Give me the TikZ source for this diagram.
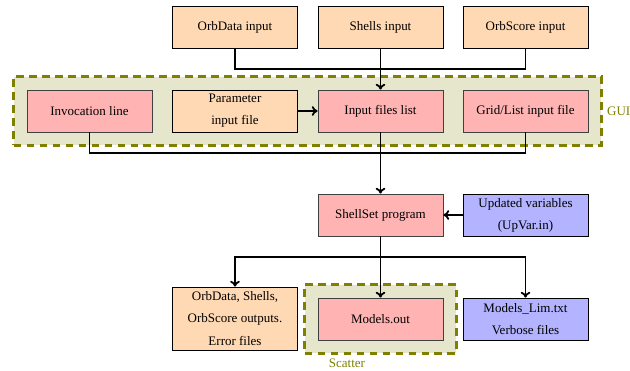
\documentclass[tikz,border=0pt]{standalone}
\usepackage{fontspec}
\setmainfont{Liberation Serif}
\usetikzlibrary{arrows.meta,fit,backgrounds}
\definecolor{inbox}{RGB}{255,217,179}
\definecolor{procbox}{RGB}{255,179,179}
\definecolor{varbox}{RGB}{179,179,255}
\definecolor{grpline}{RGB}{128,128,0}
\definecolor{grpfill}{RGB}{230,230,204}
\begin{document}
\begin{tikzpicture}[x=0.77pt,y=-0.77pt,
  box/.style={draw, line width=0.6pt, minimum width=96.25pt, minimum height=32.3pt,
    inner sep=0pt, align=center, font=\fontsize{10}{17}\selectfont},
  inbox/.style={box, fill=inbox},
  procbox/.style={box, fill=procbox, draw=black!75},
  varbox/.style={box, fill=varbox},
  group/.style={draw=grpline, fill=grpfill, line width=2.6pt,
    dash pattern=on 6pt off 4pt, inner sep=10pt},
  grplabel/.style={text=grpline, font=\fontsize{10}{12}\selectfont},
  conn/.style={line width=1.4pt},
  arr/.style={conn, -{To[length=4.5pt,width=7.5pt]}}]
\useasboundingbox (0,0) rectangle (630,371);

% input sources
\node[inbox] (orbdin) at (235,27.5) {OrbData input};
\node[inbox] (shellsin) at (380.5,27.5) {Shells input};
\node[inbox] (orbsin) at (525.5,27.5) {OrbScore input};

% GUI row
\node[procbox] (inv) at (89.5,111) {Invocation line};
\node[inbox] (param) at (235,111) {Parameter\\input file};
\node[procbox] (list) at (380.5,111) {Input files list};
\node[procbox] (grid) at (525.5,111) {Grid/List input file};

% program
\node[procbox] (prog) at (380.5,215) {ShellSet program};
\node[varbox] (upvar) at (525.5,215) {Updated variables\\(UpVar.in)};

% outputs
\node[inbox, minimum height=48.5pt] (outs) at (235,318.5) {OrbData, Shells,\\OrbScore outputs.\\Error files};
\node[procbox] (models) at (380.5,319) {Models.out};
\node[varbox] (lim) at (525.5,319) {Models\_Lim.txt\\Verbose files};

% dashed groups
\begin{scope}[on background layer]
  \node[group, fit=(inv)(grid)] (gui) {};
  \node[group, fit=(models)] (scatter) {};
\end{scope}
\node[grplabel, anchor=west, inner sep=3pt] at (gui.east) {GUI};
\node[grplabel] at (347,363) {Scatter};

% junction points
\coordinate (j1) at (380.5,69);
\coordinate (j2) at (380.5,153);
\coordinate (j3) at (380.5,257);

% connectors
\draw[conn] (orbdin.south) |- (j1) -| (orbsin.south);
\draw[arr] (shellsin) -- (list);
\draw[arr] (param) -- (list);
\draw[conn] (inv.south) |- (j2) -| (grid.south);
\draw[arr] (list) -- (prog);
\draw[arr] (upvar) -- (prog);
\draw[conn] (prog) -- (j3);
\draw[arr] (j3) -| (outs.north);
\draw[arr] (j3) -| (lim.north);
\draw[arr] (prog) -- (models);
\end{tikzpicture}
\end{document}
